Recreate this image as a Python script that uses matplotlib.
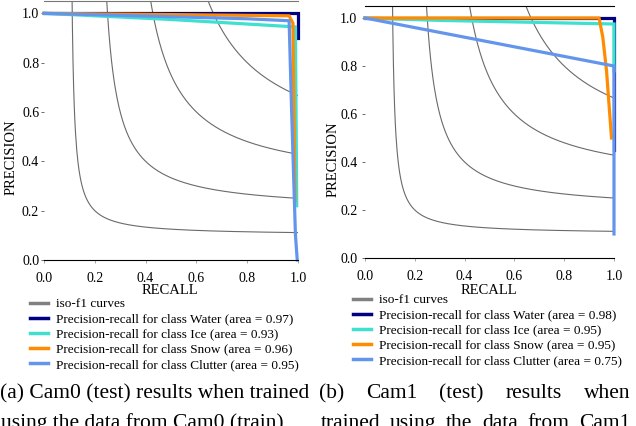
import numpy as np
import matplotlib
matplotlib.use("Agg")
import matplotlib.pyplot as plt
from matplotlib.lines import Line2D

plt.rcParams['font.family'] = ['Liberation Serif', 'DejaVu Serif']

W, H = 636, 426

# --- data ---
f1_levels = [0.2, 0.4, 0.6, 0.8]
class_names = ["Water", "Ice", "Snow", "Clutter"]
class_colors = ["navy", "turquoise", "darkorange", "cornflowerblue"]

# Cam0 panel
cam0_areas = [0.97, 0.93, 0.96, 0.95]
cam0_water_r = [0.0, 0.97, 1.0, 1.0]
cam0_water_p = [1.0, 1.0, 1.0, 0.9]
cam0_ice_r = [0.0, 0.5, 0.99, 0.993, 0.995]
cam0_ice_p = [1.0, 0.975, 0.945, 0.5, 0.22]
cam0_snow_r = [0.0, 0.5, 0.965, 0.98, 0.988]
cam0_snow_p = [1.0, 0.995, 0.99, 0.96, 0.24]
cam0_clutter_r = [0.0, 0.8, 0.965, 0.975, 0.99, 0.997]
cam0_clutter_p = [1.0, 0.978, 0.97, 0.6, 0.1, 0.0]

# Cam1 panel
cam1_areas = [0.98, 0.95, 0.95, 0.75]
cam1_water_r = [0.0, 1.0, 1.0]
cam1_water_p = [1.0, 1.0, 0.45]
cam1_ice_r = [0.0, 0.3, 1.0, 1.0]
cam1_ice_p = [1.0, 0.99, 0.975, 0.78]
cam1_snow_r = [0.0, 0.94, 0.955, 0.97, 0.99]
cam1_snow_p = [1.0, 1.0, 0.92, 0.78, 0.5]
cam1_clutter_r = [0.0, 1.0, 1.0]
cam1_clutter_p = [1.0, 0.8, 0.1]

ticks = [0.0, 0.2, 0.4, 0.6, 0.8, 1.0]


def px(x, y):
    return x / W, 1 - y / H


def draw_panel(ax, curves, areas, top_color, ylab_pad):
    x = np.linspace(0.01, 1, 400)
    for f in f1_levels:
        y = f * x / (2 * x - f)
        m = (y >= 0) & (x > f / 2)
        ax.plot(x[m], y[m], color='#6a6a6a', lw=0.8)
    for (r, p), c in zip(curves, class_colors):
        ax.plot(r, p, color=c, lw=2.3, solid_joinstyle='miter', clip_on=False)
    ax.set_xlim(0, 1)
    ax.set_ylim(0, 1.05)
    ax.set_xticks(ticks)
    ax.set_yticks(ticks)
    ax.set_xticklabels(["%.1f" % t for t in ticks])
    ax.set_yticklabels(["%.1f" % t for t in ticks])
    ax.spines['left'].set_visible(False)
    ax.spines['right'].set_visible(False)
    ax.spines['top'].set_color(top_color)
    ax.spines['bottom'].set_color('black')
    ax.tick_params(axis='x', length=2, width=0.6, color='#999999', pad=7, labelsize=10)
    ax.tick_params(axis='y', length=2, width=0.6, color='#555555', pad=ylab_pad, labelsize=10)

    handles = [Line2D([], [], color='gray', lw=2.5)]
    labels = ["iso-f1 curves"]
    for name, c, a in zip(class_names, class_colors, areas):
        handles.append(Line2D([], [], color=c, lw=2.5))
        labels.append("Precision-recall for class %s (area = %.2f)" % (name, a))
    return handles, labels


fig = plt.figure(figsize=(W / 100, H / 100), dpi=100)
ax1 = fig.add_axes([44 / W, 1 - 260 / H, 254 / W, 259 / H])
ax2 = fig.add_axes([365 / W, 1 - 258 / H, 249 / W, 252 / H])

h1, l1 = draw_panel(ax1, [(cam0_water_r, cam0_water_p), (cam0_ice_r, cam0_ice_p),
                          (cam0_snow_r, cam0_snow_p), (cam0_clutter_r, cam0_clutter_p)],
                    cam0_areas, '#777777', 1.5)
h2, l2 = draw_panel(ax2, [(cam1_water_r, cam1_water_p), (cam1_ice_r, cam1_ice_p),
                          (cam1_snow_r, cam1_snow_p), (cam1_clutter_r, cam1_clutter_p)],
                    cam1_areas, 'black', 3.5)

for (lx, ly), (rx, ry) in [((11, 157), (170, 291)), ((333, 159), (489, 290))]:
    fig.text(*px(lx, ly), "PRECISION", rotation=90, ha='center', va='center', fontsize=10.5)
    fig.text(*px(rx, ry), "RECALL", ha='center', va='center', fontsize=10.5)

leg_kw = dict(loc='upper left', bbox_transform=fig.transFigure, frameon=False,
              borderpad=0, borderaxespad=0, handlelength=1.35, handletextpad=0.6,
              labelspacing=0.22, fontsize=9.5)
ax1.legend(h1, l1, bbox_to_anchor=px(30, 298), **leg_kw)
ax2.legend(h2, l2, bbox_to_anchor=px(353, 294), **leg_kw)

# captions
cap_fs = 15.5
fig.text(*px(0, 398), "(a) Cam0 (test) results when trained", fontsize=cap_fs, va='baseline')
fig.text(*px(1, 428), "using the data from Cam0 (train)", fontsize=cap_fs, va='baseline')


def justified(words, x0, x1, ybase):
    texts = [fig.text(*px(x0, ybase), w, fontsize=cap_fs, va='baseline') for w in words]
    fig.canvas.draw()
    r = fig.canvas.get_renderer()
    widths = [t.get_window_extent(r).width for t in texts]
    gap = (x1 - x0 - sum(widths)) / (len(words) - 1)
    x = x0
    for t, w in zip(texts, widths):
        t.set_position(px(x, ybase))
        x += w + gap


justified(["(b)", "Cam1", "(test)", "results", "when"], 319, 630, 398)
justified(["trained", "using", "the", "data", "from", "Cam1"], 321, 630, 428)

fig.savefig("out.png", dpi=100)
